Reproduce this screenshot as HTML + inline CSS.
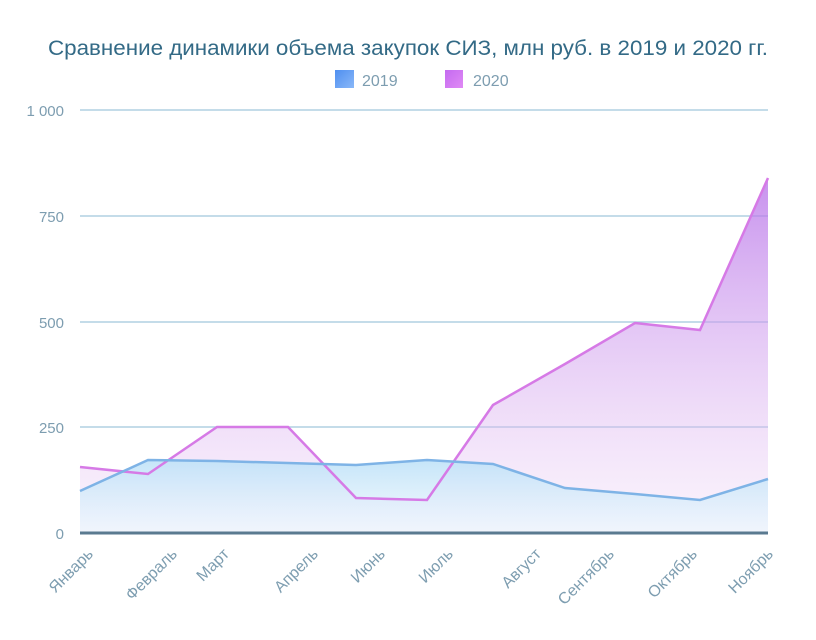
<!DOCTYPE html>
<html><head><meta charset="utf-8"><style>body{margin:0;background:#fff}svg{display:block}</style></head>
<body>
<svg width="816" height="640" viewBox="0 0 816 640" xmlns="http://www.w3.org/2000/svg" font-family="Liberation Sans, sans-serif">
<defs>
<linearGradient id="g20" x1="0" y1="0" x2="0" y2="1"><stop offset="0" stop-color="#b56ee8" stop-opacity="0.75"/><stop offset="1" stop-color="#f0d8f5" stop-opacity="0.3"/></linearGradient>
<linearGradient id="g19" x1="0" y1="0" x2="0" y2="1"><stop offset="0" stop-color="#bfe2f8" stop-opacity="0.9"/><stop offset="1" stop-color="#eaf6fd" stop-opacity="0.6"/></linearGradient>
<linearGradient id="lb" x1="0" y1="0" x2="1" y2="1"><stop offset="0" stop-color="#4f8ff0"/><stop offset="1" stop-color="#8ab8f8"/></linearGradient>
<linearGradient id="lm" x1="0" y1="0" x2="1" y2="1"><stop offset="0" stop-color="#c46af0"/><stop offset="1" stop-color="#e08af5"/></linearGradient>
</defs>
<text x="408" y="55" text-anchor="middle" font-size="21" fill="#336a86" textLength="720" lengthAdjust="spacingAndGlyphs">Сравнение динамики объема закупок СИЗ, млн руб. в 2019 и 2020 гг.</text>
<rect x="335" y="70" width="19" height="18" fill="url(#lb)"/>
<text x="362" y="86" font-size="16" fill="#7d9db0">2019</text>
<rect x="445" y="70" width="18" height="18" fill="url(#lm)"/>
<text x="473" y="86" font-size="16" fill="#7d9db0">2020</text>
<g stroke="#b0d0e2" stroke-width="1.5">
<line x1="80" y1="110" x2="768" y2="110"/><line x1="80" y1="216" x2="768" y2="216"/><line x1="80" y1="322" x2="768" y2="322"/><line x1="80" y1="427" x2="768" y2="427"/>
</g>
<g font-size="15" fill="#7d9db0" text-anchor="end">
<text x="64" y="116">1 000</text><text x="64" y="222">750</text><text x="64" y="328">500</text><text x="64" y="433">250</text><text x="64" y="539">0</text>
</g>
<path d="M80,467 L148,474 L217,427 L288,427 L356,498 L427,500 L493,405 L565,364 L635,323 L700,330 L768,178 L768,533 L80,533Z" fill="url(#g20)"/>
<path d="M80,491 L148,460 L217,461 L288,463 L356,465 L427,460 L493,464 L565,488 L635,494 L700,500 L768,479 L768,533 L80,533Z" fill="url(#g19)"/>
<polyline points="80,467 148,474 217,427 288,427 356,498 427,500 493,405 565,364 635,323 700,330 768,178" fill="none" stroke="#d67ae6" stroke-width="2.5"/>
<polyline points="80,491 148,460 217,461 288,463 356,465 427,460 493,464 565,488 635,494 700,500 768,479" fill="none" stroke="#7eb3e6" stroke-width="2.5"/>
<line x1="80" y1="533" x2="768" y2="533" stroke="#5a7a90" stroke-width="3"/>
<g font-size="16" fill="#7d9db0" text-anchor="end">
<text transform="translate(94,555) rotate(-45)">Январь</text>
<text transform="translate(178,555) rotate(-45)">Февраль</text>
<text transform="translate(230,555) rotate(-45)">Март</text>
<text transform="translate(319,555) rotate(-45)">Апрель</text>
<text transform="translate(386,555) rotate(-45)">Июнь</text>
<text transform="translate(454,555) rotate(-45)">Июль</text>
<text transform="translate(542,555) rotate(-45)">Август</text>
<text transform="translate(615,555) rotate(-45)">Сентябрь</text>
<text transform="translate(698,555) rotate(-45)">Октябрь</text>
<text transform="translate(774,555) rotate(-45)">Ноябрь</text>
</g>
</svg>
</body></html>
